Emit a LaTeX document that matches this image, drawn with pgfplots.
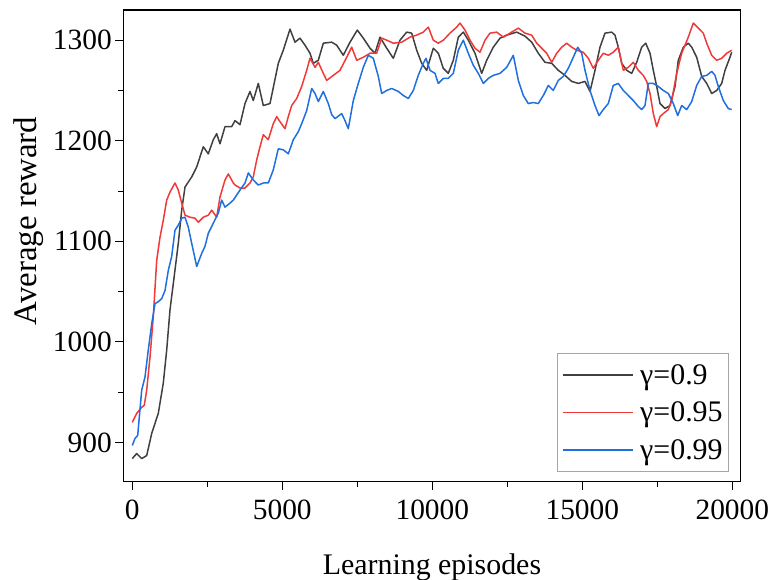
\documentclass[border=0pt]{standalone}
\usepackage{fontspec}
\setmainfont{Liberation Serif}
\usepackage{pgfplots}
\pgfplotsset{compat=1.18}
\definecolor{cblack}{HTML}{404040}
\definecolor{cred}{HTML}{F03A3A}
\definecolor{cblue}{HTML}{1F6FDE}
\begin{document}
\begin{tikzpicture}
\begin{axis}[
 scale only axis, width=617.4bp, height=471.7bp,
 xmin=-300, xmax=20280, ymin=861, ymax=1330,
 xtick={0,5000,10000,15000,20000}, ytick={900,1000,1100,1200,1300},
 minor x tick num=1, minor y tick num=1,
 tick align=outside, xtick pos=left, ytick pos=left,
 major tick length=8bp, minor tick length=5bp,
 every tick/.append style={black, line width=1bp},
 axis line style={line width=1.3bp},
 scaled ticks=false,
 /pgf/number format/1000 sep={},
 /pgf/number format/assume math mode=true,
 tick label style={font=\fontsize{29.5}{30}\selectfont},
 xticklabel style={yshift=-7bp},
 xlabel={Learning episodes}, ylabel={Average reward},
 xlabel style={font=\fontsize{30}{30}\selectfont, at={(axis description cs:0.5,-0.1975)}, anchor=base},
 ylabel style={font=\fontsize{33}{33}\selectfont, at={(axis description cs:-0.1403,0.553)}, anchor=base},
 legend style={at={(axis description cs:1,0)}, anchor=south east, xshift=-11.7bp, yshift=9.7bp,
   draw=black!35, line width=0.8bp, font=\fontsize{30}{30}\selectfont,
   inner xsep=4bp, inner ysep=9bp, row sep=12bp, column sep=5bp,
   cells={anchor=west}},
 legend image code/.code={\draw[#1, line width=1.5bp] (0bp,0bp) -- (70bp,0bp);},
 every axis plot/.append style={line width=1.5bp, line join=round},
]
\addplot[cblack] coordinates {(0,884)(147,889)(313,884)(480,887)(647,909)(867,929)(1033,959)(1147,992)(1257,1032)(1367,1058)(1533,1098)(1647,1131)(1757,1154)(1980,1164)(2147,1174)(2367,1194)(2533,1187)(2700,1201)(2813,1207)(2923,1197)(3090,1214)(3313,1214)(3423,1220)(3590,1216)(3757,1237)(3923,1249)(4033,1240)(4200,1257)(4367,1235)(4590,1237)(4867,1277)(5033,1290)(5257,1311)(5423,1298)(5590,1302)(5757,1295)(5923,1287)(6033,1277)(6200,1280)(6367,1297)(6647,1298)(6813,1295)(7033,1285)(7257,1298)(7500,1310)(7700,1302)(7923,1292)(8090,1287)(8257,1303)(8480,1292)(8700,1282)(8923,1300)(9147,1308)(9313,1307)(9480,1290)(9647,1277)(9813,1270)(10033,1292)(10200,1287)(10367,1272)(10533,1267)(10700,1280)(10867,1303)(11033,1308)(11200,1300)(11423,1287)(11647,1267)(11813,1280)(12033,1293)(12257,1302)(12480,1305)(12813,1308)(13090,1304)(13313,1298)(13533,1287)(13757,1278)(13980,1277)(14200,1270)(14423,1265)(14647,1259)(14867,1257)(15090,1259)(15257,1249)(15423,1270)(15590,1293)(15757,1307)(15980,1308)(16090,1305)(16200,1293)(16313,1277)(16480,1270)(16647,1267)(16813,1278)(16980,1293)(17113,1297)(17257,1287)(17367,1270)(17480,1254)(17590,1237)(17757,1232)(17923,1235)(18090,1254)(18200,1280)(18367,1293)(18533,1297)(18647,1293)(18813,1283)(18980,1264)(19147,1257)(19313,1247)(19480,1250)(19647,1257)(19757,1270)(19923,1283)(19980,1288)};
\addlegendentry{γ=0.9}
\addplot[cred] coordinates {(0,920)(147,929)(313,935)(400,937)(480,952)(590,985)(700,1025)(813,1081)(923,1104)(1033,1121)(1147,1141)(1257,1149)(1423,1158)(1533,1151)(1647,1138)(1757,1126)(1923,1124)(2090,1123)(2200,1119)(2367,1124)(2533,1126)(2647,1131)(2813,1124)(2923,1144)(3090,1161)(3200,1167)(3367,1158)(3423,1156)(3590,1153)(3757,1153)(3923,1158)(4033,1164)(4147,1181)(4257,1194)(4367,1206)(4533,1201)(4700,1217)(4813,1224)(4923,1219)(5090,1212)(5200,1224)(5313,1235)(5480,1242)(5647,1254)(5813,1270)(5923,1282)(6090,1273)(6200,1278)(6367,1267)(6480,1260)(6700,1265)(6923,1270)(7147,1283)(7313,1293)(7480,1280)(7700,1283)(7923,1287)(8147,1287)(8313,1302)(8480,1300)(8700,1297)(8980,1298)(9257,1303)(9480,1305)(9700,1308)(9867,1313)(10033,1300)(10200,1297)(10367,1300)(10590,1307)(10813,1313)(10923,1317)(11090,1310)(11257,1300)(11423,1292)(11590,1288)(11757,1300)(11923,1307)(12147,1308)(12370,1303)(12590,1307)(12867,1312)(13090,1307)(13313,1305)(13480,1297)(13647,1292)(13813,1287)(13980,1278)(14147,1287)(14313,1293)(14480,1297)(14647,1293)(14813,1290)(15033,1288)(15200,1282)(15367,1272)(15533,1280)(15700,1287)(15867,1285)(16033,1288)(16200,1293)(16367,1270)(16533,1273)(16700,1278)(16867,1270)(17033,1265)(17147,1259)(17257,1247)(17367,1227)(17480,1214)(17590,1224)(17700,1227)(17867,1231)(17980,1240)(18147,1267)(18313,1287)(18533,1303)(18700,1317)(18867,1312)(19033,1307)(19147,1297)(19313,1285)(19480,1280)(19647,1282)(19813,1287)(19980,1290)};
\addlegendentry{γ=0.95}
\addplot[cblue] coordinates {(0,897)(90,904)(180,907)(313,952)(423,965)(533,992)(647,1018)(757,1038)(867,1040)(980,1043)(1090,1051)(1200,1071)(1313,1085)(1423,1111)(1533,1116)(1647,1123)(1757,1124)(1867,1114)(1980,1098)(2147,1075)(2313,1088)(2423,1095)(2533,1108)(2700,1118)(2867,1128)(2980,1141)(3090,1134)(3257,1138)(3367,1141)(3590,1151)(3757,1158)(3867,1168)(4033,1161)(4200,1156)(4367,1158)(4533,1158)(4700,1171)(4867,1192)(5033,1191)(5200,1187)(5367,1201)(5533,1209)(5647,1217)(5813,1230)(5980,1252)(6090,1247)(6200,1239)(6367,1249)(6533,1237)(6647,1226)(6757,1222)(6980,1227)(7090,1220)(7200,1212)(7367,1240)(7533,1257)(7700,1273)(7867,1285)(8033,1282)(8200,1264)(8313,1247)(8480,1250)(8647,1252)(8867,1249)(9033,1245)(9200,1242)(9367,1250)(9533,1265)(9700,1277)(9790,1282)(9923,1270)(10090,1267)(10200,1257)(10367,1262)(10533,1262)(10700,1267)(10867,1290)(11033,1300)(11200,1287)(11367,1275)(11533,1267)(11700,1257)(11867,1262)(12033,1265)(12257,1267)(12480,1273)(12647,1282)(12700,1285)(12867,1260)(13033,1245)(13200,1237)(13367,1238)(13533,1237)(13700,1245)(13867,1255)(14033,1250)(14200,1260)(14367,1264)(14533,1272)(14700,1283)(14847,1293)(14980,1287)(15090,1270)(15257,1250)(15423,1235)(15557,1225)(15700,1231)(15867,1237)(16033,1255)(16200,1257)(16367,1250)(16533,1245)(16700,1240)(16867,1234)(16980,1231)(17090,1235)(17200,1257)(17367,1257)(17533,1254)(17700,1250)(17867,1247)(18033,1237)(18180,1225)(18313,1235)(18480,1231)(18647,1239)(18813,1255)(18980,1264)(19147,1265)(19313,1269)(19423,1265)(19533,1254)(19700,1240)(19867,1232)(19980,1231)};
\addlegendentry{γ=0.99}
\end{axis}
\pgfresetboundingbox
\path[use as bounding box] ([xshift=-123.3bp,yshift=-98.3bp]current axis.south west) rectangle ([xshift=30.3bp,yshift=10bp]current axis.north east);
\end{tikzpicture}
\end{document}
